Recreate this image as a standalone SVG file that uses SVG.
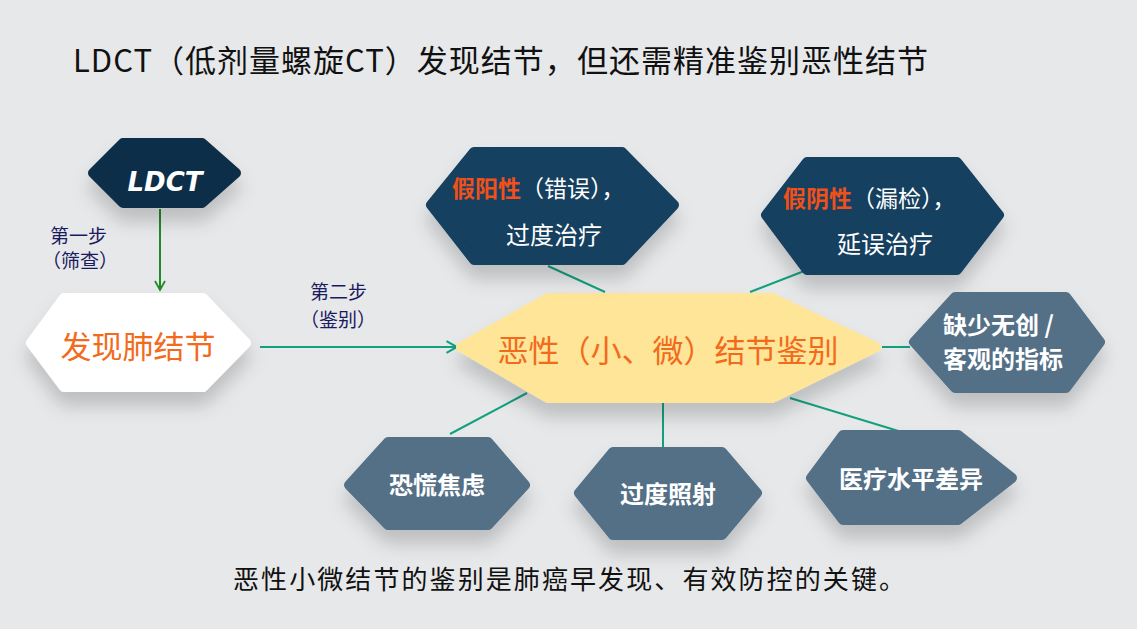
<svg xmlns="http://www.w3.org/2000/svg" width="1137" height="629" viewBox="0 0 1137 629">
<defs>
<filter id="sh" x="-30%" y="-30%" width="160%" height="190%">
<feDropShadow dx="0" dy="14" stdDeviation="9" flood-color="#000" flood-opacity="0.18"/>
</filter>
<marker id="ag" viewBox="0 0 12 12" refX="10" refY="6" markerWidth="12" markerHeight="12" markerUnits="userSpaceOnUse" orient="auto">
<path d="M1,1 L10,6 L1,11" fill="none" stroke="#1e8c25" stroke-width="1.8"/>
</marker>
<marker id="at" viewBox="0 0 12 12" refX="10" refY="6" markerWidth="14" markerHeight="14" markerUnits="userSpaceOnUse" orient="auto">
<path d="M1,1 L10,6 L1,11" fill="none" stroke="#13a07f" stroke-width="1.8"/>
</marker>
</defs>
<style>
.hx{stroke-linejoin:round;stroke-width:10;filter:url(#sh)}
.navy{fill:#0f2e48;stroke:#0f2e48}
.blue{fill:#143f60;stroke:#143f60}
.slate{fill:#527087;stroke:#527087}
.white{fill:#ffffff;stroke:#ffffff}
.yellow{fill:#fee597;stroke:#fee597}
.cn{font-family:"Noto Sans CJK SC","Liberation Sans",sans-serif}
.wt{fill:#ffffff;font-weight:bold;font-size:24px}
.lbl{fill:#1a1a5e;font-size:19px}
.con{stroke:#13a07f;stroke-width:2;fill:none}
</style>
<rect width="1137" height="629" fill="#e7e8ea"/>
<text x="73" y="72" class="cn" font-size="31" fill="#111" textLength="855" lengthAdjust="spacing">LDCT（低剂量螺旋CT）发现结节，但还需精准鉴别恶性结节</text>

<g id="connectors">
<line x1="160" y1="209" x2="160" y2="290" stroke="#1e8c25" stroke-width="2" marker-end="url(#ag)"/>
<line x1="260" y1="347" x2="457" y2="347" class="con" marker-end="url(#at)"/>
<line x1="548" y1="266" x2="605" y2="292" class="con"/>
<line x1="812" y1="268" x2="750" y2="292" class="con"/>
<line x1="882" y1="347" x2="910" y2="347" class="con"/>
<line x1="527" y1="393" x2="450" y2="434" class="con"/>
<line x1="663" y1="403" x2="663" y2="448" class="con"/>
<line x1="790" y1="398" x2="905" y2="433" class="con"/>
</g>
<text x="50" y="243" class="cn lbl">第一步</text>
<text x="42" y="268" class="cn lbl">（筛查）</text>
<text x="310" y="299" class="cn lbl">第二步</text>
<text x="300" y="327" class="cn lbl">（鉴别）</text>

<g id="n-ldct">
<polygon class="hx navy" points="93,173 123,143 202,143 236,173 202,203 123,203"/>
<text x="165" y="191" text-anchor="middle" font-family="DejaVu Sans" font-weight="bold" font-style="italic" font-size="26" fill="#ffffff">LDCT</text>
</g>
<g id="n-find">
<polygon class="hx white" points="31,343 64,298 203,298 246,343 203,387 64,387"/>
<text x="138" y="358" text-anchor="middle" class="cn" font-size="31" fill="#f26b1d">发现肺结节</text>
</g>
<g id="n-center">
<polygon class="hx yellow" points="461,347 548,298 772,298 876,347 772,398 548,398"/>
<text x="668" y="362" text-anchor="middle" class="cn" font-size="31" fill="#f26b1d">恶性（小、微）结节鉴别</text>
</g>
<g id="n-fp">
<polygon class="hx blue" points="431,205 474,152 622,152 674,205 622,260 474,260"/>
<text x="452" y="197" class="cn" font-size="23" font-weight="bold"><tspan fill="#f0501a">假阳性</tspan><tspan fill="#ffffff" font-weight="normal">（错误），</tspan></text>
<text x="554" y="244" text-anchor="middle" class="cn" font-size="24" fill="#ffffff">过度治疗</text>
</g>
<g id="n-fn">
<polygon class="hx blue" points="766,215 807,162 957,162 999,215 957,270 807,270"/>
<text x="783" y="207" class="cn" font-size="23" font-weight="bold"><tspan fill="#f0501a">假阴性</tspan><tspan fill="#ffffff" font-weight="normal">（漏检），</tspan></text>
<text x="885" y="253" text-anchor="middle" class="cn" font-size="24" fill="#ffffff">延误治疗</text>
</g>
<g id="n-lack">
<polygon class="hx slate" points="914,342 955,297 1066,297 1100,342 1066,388 955,388"/>
<text x="943" y="334" class="cn wt" font-size="23">缺少无创 /</text>
<text x="943" y="368" class="cn wt" font-size="23">客观的指标</text>
</g>
<g id="n-panic">
<polygon class="hx slate" points="349,485 388,442 488,442 525,485 488,525 388,525"/>
<text x="437" y="494" text-anchor="middle" class="cn wt">恐慌焦虑</text>
</g>
<g id="n-rad">
<polygon class="hx slate" points="579,493 613,452 722,452 757,493 722,535 613,535"/>
<text x="668" y="503" text-anchor="middle" class="cn wt">过度照射</text>
</g>
<g id="n-med">
<polygon class="hx slate" points="811,478 843,435 958,435 1012,478 958,520 843,520"/>
<text x="911" y="488" text-anchor="middle" class="cn wt">医疗水平差异</text>
</g>
<text x="233" y="589" class="cn" font-size="26" fill="#111" textLength="672" lengthAdjust="spacing">恶性小微结节的鉴别是肺癌早发现、有效防控的关键。</text>
</svg>
